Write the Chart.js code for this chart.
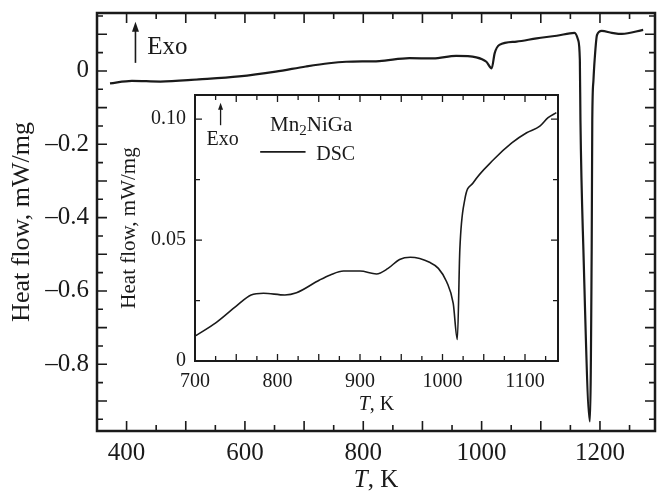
<!DOCTYPE html>
<html>
<head>
<meta charset="utf-8">
<script src="https://cdn.jsdelivr.net/npm/chart.js@4"></script>
<style>
    html, body { margin: 0; padding: 0; background: #fff; }
    #wrap { position: relative; width: 658px; height: 496px; }
    canvas { position: absolute; left: 0; top: 0; }
</style>
</head>
<body>
<div id="wrap">
    <canvas id="mainChart" width="658" height="496"></canvas>
    <canvas id="insetChart" width="658" height="496"></canvas>
</div>
<script>
// Main DSC curve (T in K, heat flow in mW/mg)
const mainT = [372, 409, 457, 522, 590, 652, 703, 742, 771, 827, 878, 918, 957, 991, 1008, 1017, 1022, 1030,
    1059, 1093, 1127, 1157, 1163, 1166, 1167, 1172, 1183, 1186, 1187, 1189, 1191, 1195, 1203, 1220, 1237, 1273];
const mainHeatFlow = [-0.034, -0.027, -0.029, -0.023, -0.015, -0.002, 0.012, 0.021, 0.025, 0.027, 0.035, 0.034,
    0.041, 0.037, 0.025, 0.007, 0.048, 0.071, 0.080, 0.089, 0.096, 0.104, 0.085, 0.030, -0.134, -0.488, -0.956,
    -0.488, -0.134, -0.025, 0.030, 0.098, 0.109, 0.104, 0.101, 0.112];

// Inset: zoom on 700-1140 K
const insetT = [701, 726, 750, 768, 783, 809, 823, 851, 864, 880, 900, 920, 934, 948, 961, 985, 995, 1005, 1013,
    1018, 1021, 1027, 1037, 1062, 1084, 1102, 1118, 1128, 1138];
const insetHeatFlow = [0.0105, 0.016, 0.0227, 0.0273, 0.028, 0.0273, 0.0282, 0.0335, 0.0356, 0.0372, 0.0372,
    0.036, 0.0383, 0.042, 0.0429, 0.0407, 0.0383, 0.0328, 0.0238, 0.0089, 0.046, 0.0667, 0.0736, 0.0833, 0.0902,
    0.0944, 0.0971, 0.1006, 0.1027];

// Tick labels
const mainXTicks = [400, 600, 800, 1000, 1200];
const mainYTicks = [-0.8, -0.6, -0.4, -0.2, 0];
const insetXTicks = [700, 800, 900, 1000, 1100];
const insetYTicks = [0, 0.05, 0.10];

const SERIF = "'Liberation Serif', 'Times New Roman', serif";
const INK = '#1a1a1a';

const range = (from, to, step) => {
    const out = [];
    for (let i = 0; from + i * step <= to + 1e-9; i++) out.push(+(from + i * step).toFixed(4));
    return out;
};
const isMultiple = (v, step) => Math.abs(v / step - Math.round(v / step)) < 1e-6;

// fixed axis box sizes, no extra label padding around the plot area
const fixSize = (w, h) => s => {
    if (w !== null) s.width = w;
    if (h !== null) s.height = h;
    s.paddingTop = 0; s.paddingBottom = 0;
    s.paddingLeft = 0; s.paddingRight = 0;
};

/**
 * Frame with inward tick marks on all four sides
 */
const frameTicks = {
    id: 'frameTicks',
    afterDraw(chart, args, opts) {
        const { ctx, chartArea: a, scales: { x, y } } = chart;
        ctx.save();
        ctx.strokeStyle = INK;
        ctx.lineWidth = opts.tickWidth;
        ctx.beginPath();
        opts.xTicks.forEach(v => {
            const px = x.getPixelForValue(v);
            const len = isMultiple(v, opts.xMajor) ? opts.majorLen : opts.minorLen;
            ctx.moveTo(px, a.bottom); ctx.lineTo(px, a.bottom - len);
            ctx.moveTo(px, a.top); ctx.lineTo(px, a.top + len);
        });
        opts.yTicks.forEach(v => {
            const py = y.getPixelForValue(v);
            const len = isMultiple(v, opts.yMajor) ? opts.majorLen : opts.minorLen;
            ctx.moveTo(a.left, py); ctx.lineTo(a.left + len, py);
            ctx.moveTo(a.right, py); ctx.lineTo(a.right - len, py);
        });
        ctx.stroke();
        ctx.lineWidth = opts.frameWidth;
        ctx.strokeRect(a.left, a.top, a.right - a.left, a.bottom - a.top);
        ctx.restore();
    }
};

const drawArrow = (ctx, x, yFrom, yTo, headLen, headW) => {
    ctx.beginPath();
    ctx.moveTo(x, yFrom);
    ctx.lineTo(x, yTo + headLen - 1);
    ctx.stroke();
    ctx.beginPath();
    ctx.moveTo(x, yTo);
    ctx.lineTo(x - headW / 2, yTo + headLen);
    ctx.lineTo(x + headW / 2, yTo + headLen);
    ctx.closePath();
    ctx.fill();
};

const drawTitleTK = (ctx, cx, cy, size) => {
    ctx.textBaseline = 'middle';
    ctx.textAlign = 'left';
    ctx.font = `italic ${size}px ${SERIF}`;
    const wT = ctx.measureText('T').width;
    ctx.font = `${size}px ${SERIF}`;
    const wRest = ctx.measureText(', K').width;
    const x0 = cx - (wT + wRest) / 2;
    ctx.font = `italic ${size}px ${SERIF}`;
    ctx.fillText('T', x0, cy);
    ctx.font = `${size}px ${SERIF}`;
    ctx.fillText(', K', x0 + wT, cy);
};

const mainNotes = {
    id: 'mainNotes',
    afterDraw(chart) {
        const { ctx, chartArea: a, scales: { x, y } } = chart;
        ctx.save();
        ctx.fillStyle = INK;
        ctx.strokeStyle = INK;
        ctx.lineWidth = 1.6;
        drawArrow(ctx, x.getPixelForValue(415), y.getPixelForValue(0.022), y.getPixelForValue(0.134), 10, 7);
        ctx.font = `25px ${SERIF}`;
        ctx.textBaseline = 'middle';
        ctx.fillText('Exo', x.getPixelForValue(435), y.getPixelForValue(0.063));
        drawTitleTK(ctx, (a.left + a.right) / 2, a.bottom + 49, 25);
        ctx.restore();
    }
};

const insetNotes = {
    id: 'insetNotes',
    afterDraw(chart) {
        const { ctx, chartArea: a, scales: { x, y } } = chart;
        const ds = chart.data.datasets[0];
        ctx.save();
        ctx.fillStyle = INK;
        ctx.strokeStyle = INK;
        ctx.lineWidth = 1.3;
        drawArrow(ctx, x.getPixelForValue(731), y.getPixelForValue(0.0975), y.getPixelForValue(0.1068), 7, 5);
        ctx.textBaseline = 'middle';
        ctx.font = `20px ${SERIF}`;
        ctx.fillText('Exo', x.getPixelForValue(714), y.getPixelForValue(0.0917));

        // Mn2NiGa with subscript
        let tx = x.getPixelForValue(791);
        const ty = y.getPixelForValue(0.0975);
        ctx.font = `21px ${SERIF}`;
        ctx.fillText('Mn', tx, ty);
        tx += ctx.measureText('Mn').width;
        ctx.font = `15px ${SERIF}`;
        ctx.fillText('2', tx, ty + 6);
        tx += ctx.measureText('2').width;
        ctx.font = `21px ${SERIF}`;
        ctx.fillText('NiGa', tx, ty);

        // legend entry
        const ly = y.getPixelForValue(0.0865);
        ctx.lineWidth = ds.borderWidth;
        ctx.beginPath();
        ctx.moveTo(x.getPixelForValue(779), ly);
        ctx.lineTo(x.getPixelForValue(834), ly);
        ctx.stroke();
        ctx.font = `20px ${SERIF}`;
        ctx.fillText(ds.label, x.getPixelForValue(847), y.getPixelForValue(0.0851));

        drawTitleTK(ctx, (a.left + a.right) / 2, a.bottom + 44, 20);
        ctx.restore();
    }
};

const toPoints = (xs, ys) => xs.map((v, i) => ({ x: v, y: ys[i] }));

new Chart(document.getElementById('mainChart'), {
    type: 'line',
    data: {
        datasets: [{
            label: 'DSC',
            data: toPoints(mainT, mainHeatFlow),
            borderColor: INK,
            borderWidth: 2.2,
            pointRadius: 0,
            cubicInterpolationMode: 'monotone',
            fill: false
        }]
    },
    options: {
        responsive: false,
        animation: false,
        layout: { padding: { left: 7, top: 13, right: 3, bottom: 0 } },
        plugins: {
            legend: { display: false },
            tooltip: { enabled: false },
            frameTicks: {
                xTicks: range(400, 1250, 50), xMajor: 100,
                yTicks: range(-0.95, 0.15, 0.05), yMajor: 0.1,
                majorLen: 10, minorLen: 6, tickWidth: 1.6, frameWidth: 2.5
            }
        },
        scales: {
            x: {
                type: 'linear',
                min: 350, max: 1293,
                grid: { display: false, drawTicks: false },
                border: { display: false },
                afterBuildTicks: s => { s.ticks = mainXTicks.map(v => ({ value: v })); },
                afterFit: fixSize(null, 65),
                ticks: {
                    padding: 7, color: INK, font: { family: SERIF, size: 25 },
                    callback: v => String(v)
                }
            },
            y: {
                type: 'linear',
                min: -0.982, max: 0.158,
                grid: { display: false, drawTicks: false },
                border: { display: false },
                afterBuildTicks: s => { s.ticks = mainYTicks.map(v => ({ value: v })); },
                afterFit: fixSize(90, null),
                ticks: {
                    padding: 8, color: INK, font: { family: SERIF, size: 25 },
                    callback: v => v === 0 ? '0' : '\u2013' + Math.abs(v).toFixed(1)
                },
                title: {
                    display: true, text: 'Heat flow, mW/mg', color: INK, padding: 0,
                    font: { family: SERIF, size: 26, weight: 'normal' }
                }
            }
        }
    },
    plugins: [frameTicks, mainNotes]
});

new Chart(document.getElementById('insetChart'), {
    type: 'line',
    data: {
        datasets: [{
            label: 'DSC',
            data: toPoints(insetT, insetHeatFlow),
            borderColor: INK,
            borderWidth: 1.6,
            pointRadius: 0,
            cubicInterpolationMode: 'monotone',
            fill: false
        }]
    },
    options: {
        responsive: false,
        animation: false,
        layout: { padding: { left: 117, top: 95, right: 100, bottom: 75 } },
        plugins: {
            legend: { display: false },
            tooltip: { enabled: false },
            frameTicks: {
                xTicks: range(725, 1125, 25), xMajor: 50,
                yTicks: range(0.025, 0.1, 0.025), yMajor: 0.05,
                majorLen: 7, minorLen: 5, tickWidth: 1.3, frameWidth: 2
            }
        },
        scales: {
            x: {
                type: 'linear',
                min: 700, max: 1140,
                grid: { display: false, drawTicks: false },
                border: { display: false },
                afterBuildTicks: s => { s.ticks = insetXTicks.map(v => ({ value: v })); },
                afterFit: fixSize(null, 60),
                ticks: {
                    padding: 9, color: INK, font: { family: SERIF, size: 20 },
                    callback: v => String(v)
                }
            },
            y: {
                type: 'linear',
                min: 0, max: 0.11,
                grid: { display: false, drawTicks: false },
                border: { display: false },
                afterBuildTicks: s => { s.ticks = insetYTicks.map(v => ({ value: v })); },
                afterFit: fixSize(78, null),
                ticks: {
                    padding: 9, color: INK, font: { family: SERIF, size: 20 },
                    callback: v => v === 0 ? '0' : v.toFixed(2)
                },
                title: {
                    display: true, text: 'Heat flow, mW/mg', color: INK, padding: 0,
                    font: { family: SERIF, size: 21, weight: 'normal' }
                }
            }
        }
    },
    plugins: [frameTicks, insetNotes]
});
</script>
</body>
</html>
